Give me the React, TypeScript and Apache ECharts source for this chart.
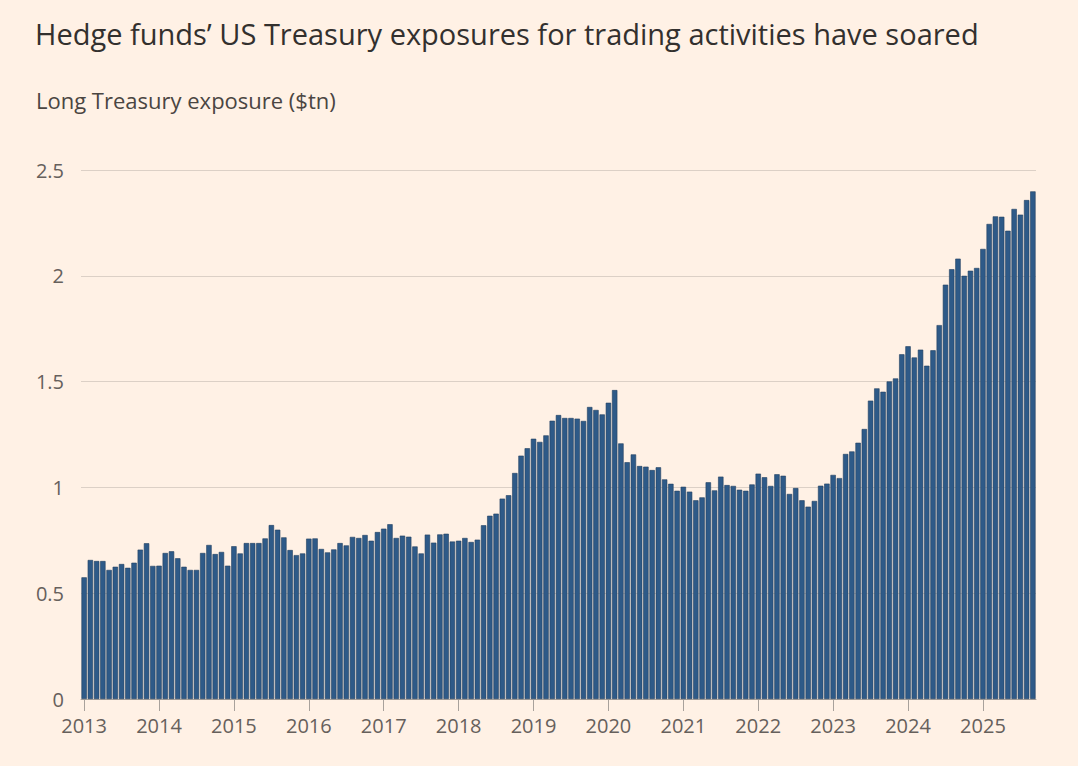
import React, { useEffect, useRef } from "react";
import * as echarts from "echarts";

// Monthly observations, Jan 2013 – Sep 2025 ($tn)
const years = [2013, 2014, 2015, 2016, 2017, 2018, 2019, 2020, 2021, 2022, 2023, 2024, 2025];

const values2013 = [0.575, 0.657, 0.652, 0.652, 0.61, 0.625, 0.638, 0.62, 0.644, 0.706, 0.736, 0.629];
const values2014 = [0.63, 0.69, 0.698, 0.665, 0.625, 0.61, 0.61, 0.69, 0.728, 0.685, 0.695, 0.63];
const values2015 = [0.722, 0.688, 0.737, 0.737, 0.737, 0.759, 0.822, 0.8, 0.764, 0.704, 0.68, 0.688];
const values2016 = [0.758, 0.759, 0.709, 0.693, 0.707, 0.737, 0.726, 0.766, 0.761, 0.775, 0.748, 0.789];
const values2017 = [0.805, 0.826, 0.761, 0.772, 0.767, 0.721, 0.688, 0.777, 0.739, 0.778, 0.781, 0.744];
const values2018 = [0.748, 0.761, 0.742, 0.753, 0.821, 0.866, 0.876, 0.947, 0.963, 1.068, 1.15, 1.185];
const values2019 = [1.23, 1.215, 1.246, 1.315, 1.342, 1.328, 1.328, 1.325, 1.314, 1.38, 1.366, 1.345];
const values2020 = [1.4, 1.46, 1.208, 1.119, 1.156, 1.101, 1.098, 1.082, 1.095, 1.038, 1.017, 0.984];
const values2021 = [1.003, 0.98, 0.939, 0.953, 1.024, 0.986, 1.051, 1.011, 1.007, 0.989, 0.984, 1.014];
const values2022 = [1.065, 1.048, 1.007, 1.062, 1.055, 0.969, 0.997, 0.939, 0.909, 0.936, 1.008, 1.018];
const values2023 = [1.059, 1.044, 1.158, 1.17, 1.211, 1.276, 1.41, 1.468, 1.452, 1.501, 1.515, 1.629];
const values2024 = [1.667, 1.614, 1.651, 1.575, 1.648, 1.767, 1.958, 2.031, 2.081, 2.0, 2.024, 2.037];
const values2025 = [2.127, 2.245, 2.281, 2.279, 2.213, 2.316, 2.289, 2.358, 2.399];

const yearlyValues = [
  values2013, values2014, values2015, values2016, values2017, values2018, values2019,
  values2020, values2021, values2022, values2023, values2024, values2025,
];

const yTicks = [0, 0.5, 1, 1.5, 2, 2.5];

const TITLE = "Hedge funds’ US Treasury exposures for trading activities have soared";
const SUBTITLE = "Long Treasury exposure ($tn)";

const FONT = "'Open Sans', 'Noto Sans', sans-serif";

export default function App() {
  const ref = useRef<HTMLDivElement>(null);

  useEffect(() => {
    if (!ref.current) return;
    const chart = echarts.init(ref.current, undefined, { renderer: "svg" });

    const categories: string[] = [];
    const data: number[] = [];
    yearlyValues.forEach((arr, yi) => {
      arr.forEach((v, mi) => {
        categories.push(`${years[yi]}-${String(mi + 1).padStart(2, "0")}`);
        data.push(v);
      });
    });

    const isJan = (idx: number) => idx % 12 === 0;

    chart.setOption({
      animation: false,
      backgroundColor: "#FFF1E5",
      textStyle: { fontFamily: FONT },
      title: [
        {
          text: TITLE,
          left: 30,
          top: 14,
          textStyle: { fontFamily: FONT, fontSize: 29, fontWeight: "normal", color: "#33302E" },
        },
        {
          text: SUBTITLE,
          left: 31,
          top: 84,
          textStyle: { fontFamily: FONT, fontSize: 22, fontWeight: "normal", color: "#4A4542" },
        },
      ],
      grid: { left: 81, right: 42, top: 170, bottom: 67, containLabel: false },
      xAxis: {
        type: "category",
        data: categories,
        boundaryGap: true,
        axisLine: { show: true, lineStyle: { color: "#A8A19B", width: 1 } },
        axisTick: {
          show: true,
          alignWithLabel: true,
          interval: (idx: number) => isJan(idx),
          length: 12,
          lineStyle: { color: "#A8A19B", width: 1 },
        },
        axisLabel: {
          interval: (idx: number) => isJan(idx),
          formatter: (val: string) => val.slice(0, 4),
          fontFamily: FONT,
          fontSize: 20,
          color: "#66605C",
          margin: 16,
        },
        splitLine: { show: false },
      },
      yAxis: {
        type: "value",
        min: 0,
        max: 2.5,
        interval: 0.5,
        axisLine: { show: false },
        axisTick: { show: false },
        axisLabel: {
          fontFamily: FONT,
          fontSize: 20,
          color: "#66605C",
          margin: 17,
          formatter: (v: number) => (yTicks.includes(v) ? String(v) : ""),
        },
        splitLine: { show: true, lineStyle: { color: "#DCD0C6", width: 1 } },
      },
      series: [
        {
          type: "bar",
          data,
          barCategoryGap: "14%",
          itemStyle: { color: "#2E5A88", borderColor: "#22405F", borderWidth: 0.6 },
        },
      ],
    });

    return () => chart.dispose();
  }, []);

  return (
    <div
      ref={ref}
      style={{ position: "fixed", left: 0, top: 0, width: 1078, height: 766 }}
    />
  );
}
